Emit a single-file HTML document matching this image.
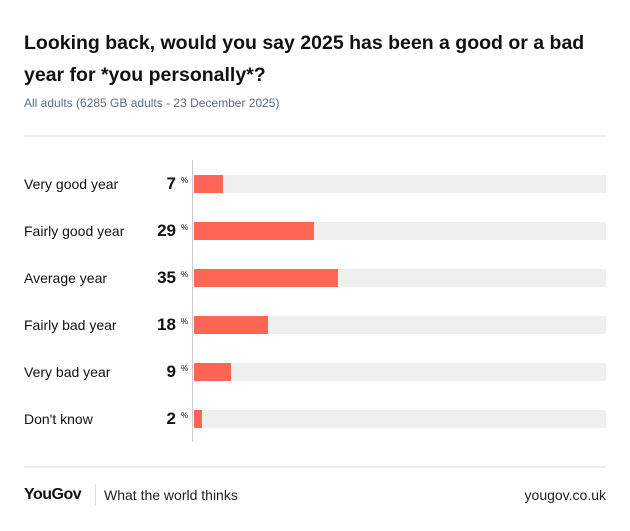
<!DOCTYPE html>
<html><head><style>
body{margin:0;width:630px;height:531px;background:#fff;font-family:"Liberation Sans",sans-serif;position:relative;overflow:hidden}
.t{position:absolute;left:24px;top:27px;font-size:19.5px;font-weight:bold;line-height:32px;color:#111;width:590px}
.s{position:absolute;left:24px;top:96px;font-size:12px;color:#5b6b86}
.hr{position:absolute;left:24px;width:582px;height:2px;background:#ececf0}
.lab{position:absolute;left:24px;font-size:14px;color:#111}
.num{position:absolute;width:176px;left:0;text-align:right;font-size:17px;font-weight:bold;color:#111}
.pc{position:absolute;left:181px;font-size:8px;color:#111}
.tr{position:absolute;left:194px;width:412px;height:18px;background:#efefef}
.bar{position:absolute;left:194px;height:18px;background:#ff6555}
</style></head><body>
<div class="t">Looking back, would you say 2025 has been a good or a bad year for *you personally*?</div>
<div class="s">All adults (6285 GB adults - 23 December 2025)</div>
<div class="hr" style="top:135px"></div>
<div style="position:absolute;left:192px;top:160px;width:1px;height:282px;background:#ccc"></div>

<div class="tr" style="top:175px"></div><div class="bar" style="top:175px;width:29px"></div>
<div class="lab" style="top:176px">Very good year</div><div class="num" style="top:174px">7</div><div class="pc" style="top:176px">%</div>

<div class="tr" style="top:222px"></div><div class="bar" style="top:222px;width:120px"></div>
<div class="lab" style="top:223px">Fairly good year</div><div class="num" style="top:221px">29</div><div class="pc" style="top:223px">%</div>

<div class="tr" style="top:269px"></div><div class="bar" style="top:269px;width:144px"></div>
<div class="lab" style="top:270px">Average year</div><div class="num" style="top:268px">35</div><div class="pc" style="top:270px">%</div>

<div class="tr" style="top:316px"></div><div class="bar" style="top:316px;width:74px"></div>
<div class="lab" style="top:317px">Fairly bad year</div><div class="num" style="top:315px">18</div><div class="pc" style="top:317px">%</div>

<div class="tr" style="top:363px"></div><div class="bar" style="top:363px;width:37px"></div>
<div class="lab" style="top:364px">Very bad year</div><div class="num" style="top:362px">9</div><div class="pc" style="top:364px">%</div>

<div class="tr" style="top:410px"></div><div class="bar" style="top:410px;width:8px"></div>
<div class="lab" style="top:411px">Don't know</div><div class="num" style="top:409px">2</div><div class="pc" style="top:411px">%</div>

<div class="hr" style="top:466px"></div>
<div style="position:absolute;left:24px;top:486px;font-size:16px;font-weight:bold;letter-spacing:-0.5px;color:#111">YouGov</div>
<div style="position:absolute;left:95px;top:484px;width:1px;height:22px;background:#ddd"></div>
<div style="position:absolute;left:104px;top:487px;font-size:14px;color:#222">What the world thinks</div>
<div style="position:absolute;right:24px;top:487px;font-size:14px;color:#222">yougov.co.uk</div>
</body></html>
